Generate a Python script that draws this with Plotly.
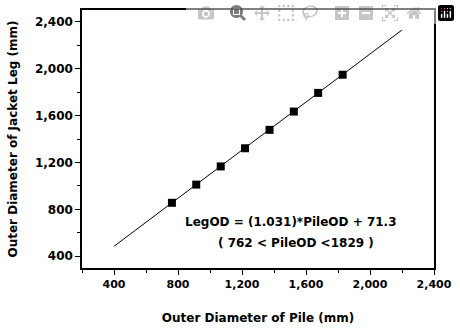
import plotly.graph_objects as go

pile_od = [762, 914, 1067, 1219, 1372, 1524, 1676, 1829]
leg_od = [856, 1011, 1166, 1321, 1478, 1634, 1793, 1948]
fit_x = [400, 2200]
fit_y = [485, 2330]
x_ticks = [400, 800, 1200, 1600, 2000, 2400]
y_ticks = [400, 800, 1200, 1600, 2000, 2400]
eq_lines = ["LegOD = (1.031)*PileOD + 71.3", "( 762 < PileOD <1829 )"]

font_fam = "DejaVu Sans, Arial, sans-serif"

fig = go.Figure()
fig.add_trace(go.Scatter(x=fit_x, y=fit_y, mode="lines",
                         line=dict(color="black", width=1), showlegend=False))
fig.add_trace(go.Scatter(x=pile_od, y=leg_od, mode="markers",
                         marker=dict(symbol="square", size=8, color="black"),
                         showlegend=False))

fig.add_annotation(x=1505, y=692, text=eq_lines[0], showarrow=False,
                   font=dict(family=font_fam, size=12, color="black", weight="bold"),
                   xanchor="center", yanchor="middle")
fig.add_annotation(x=1535, y=510, text=eq_lines[1], showarrow=False,
                   font=dict(family=font_fam, size=12, color="black", weight="bold"),
                   xanchor="center", yanchor="middle")

axis_common = dict(
    showgrid=False, zeroline=False, showline=True, linecolor="black", linewidth=1.5,
    mirror=True, ticks="outside", ticklen=5, tickwidth=1.2, tickcolor="black",
    tickformat=",d",
    minor=dict(ticks="outside", ticklen=3, dtick=200, tickcolor="black", tickwidth=1),
)

fig.update_xaxes(range=[200, 2400], tickvals=x_ticks,
                 tickfont=dict(family=font_fam, size=11, color="black", weight="bold"),
                 title=dict(text="Outer Diameter of Pile (mm)", standoff=24,
                            font=dict(family=font_fam, size=12, color="black", weight="bold")),
                 **axis_common)
fig.update_yaxes(range=[300, 2500], tickvals=y_ticks, ticklabelstandoff=0,
                 tickfont=dict(family=font_fam, size=12, color="black", weight="bold"),
                 title=dict(text="Outer Diameter of Jacket Leg (mm)", standoff=15,
                            font=dict(family=font_fam, size=12, color="black", weight="bold")),
                 **axis_common)

fig.update_layout(width=460, height=331, plot_bgcolor="white", paper_bgcolor="white",
                  margin=dict(l=82, r=18, t=8, b=59))

# remove the browser's default 8px body margin so the figure fills the window exactly
fig.write_html("out.html",
               post_script="document.body.style.margin='0';document.body.style.overflow='hidden';")
